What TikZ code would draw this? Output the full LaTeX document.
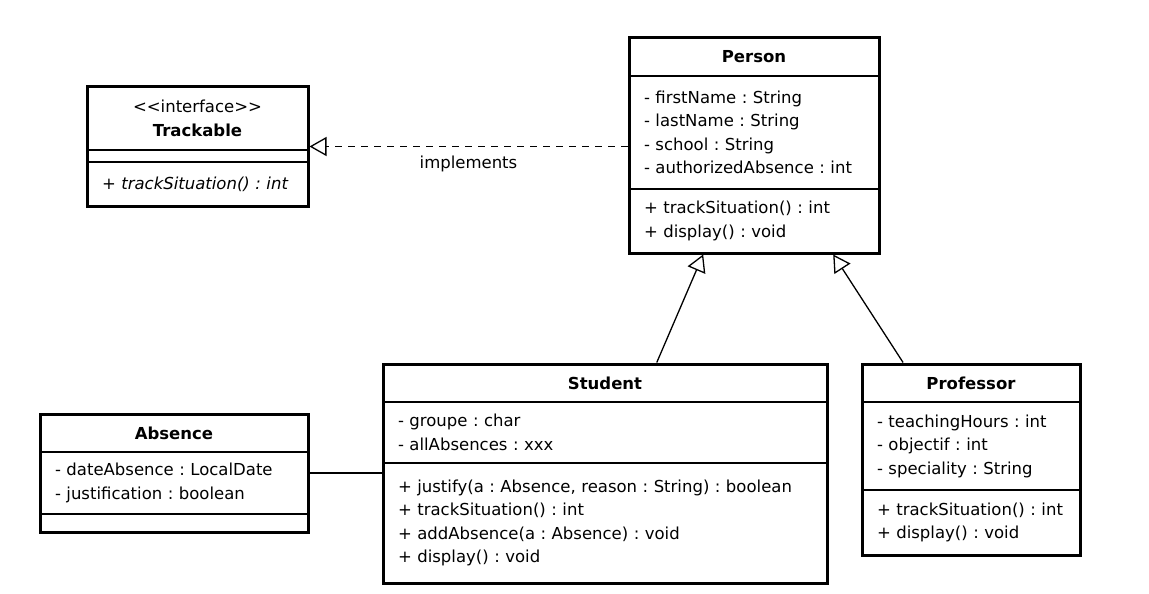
\documentclass[tikz,border=0pt]{standalone}
\usepackage{fontspec}
\setmainfont{DejaVu Sans}
\usetikzlibrary{arrows.meta, positioning, fit}
\frenchspacing

\begin{document}
\begin{tikzpicture}[x=1pt, y=-1pt, font=\fontsize{16.5}{23.5}\selectfont, node distance=0pt,
    classname/.style={draw, line width=1.2pt, outer sep=0pt, inner xsep=15pt, inner ysep=0pt, align=center, anchor=north west},
    classpart/.style={draw, line width=1.2pt, outer sep=0pt, inner xsep=15pt, inner ysep=0pt, align=left},
    classframe/.style={draw, line width=3pt, inner sep=0pt},
    inherit/.style={-{Triangle[open, length=17pt, width=19pt]}, line width=1.3pt},
    realize/.style={inherit, dash pattern=on 7pt off 6pt}]
    \useasboundingbox (0,0) rectangle (1149,594);

    % interface
    \node[classname, text width=191pt, minimum height=63pt] (track) at (87,87) {<{}<interface>{}>\\\textbf{Trackable}};
    \node[classpart, text width=191pt, minimum height=12pt, below=of track] (trackattr) {};
    \node[classpart, text width=191pt, minimum height=44pt, below=of trackattr] (trackops) {\itshape + trackSituation() : int};
    \node[classframe, fit=(track)(trackops)] (trackbox) {};

    % Person
    \node[classname, text width=220pt, minimum height=38pt] (person) at (629,38) {\textbf{Person}};
    \node[classpart, text width=220pt, minimum height=113pt, below=of person] (personattr) {- firstName : String\\- lastName : String\\- school : String\\- authorizedAbsence : int};
    \node[classpart, text width=220pt, minimum height=64pt, below=of personattr] (personops) {+ trackSituation() : int\\+ display() : void};
    \node[classframe, fit=(person)(personops)] (personbox) {};

    % Student
    \node[classname, text width=414pt, minimum height=38pt] (student) at (383,364) {\textbf{Student}};
    \node[classpart, text width=414pt, minimum height=61pt, below=of student] (studentattr) {- groupe : char\\- allAbsences : xxx};
    \node[classpart, text width=414pt, minimum height=120pt, below=of studentattr] (studentops) {+ justify(a : Absence, reason : String) : boolean\\+ trackSituation() : int\\+ addAbsence(a : Absence) : void\\+ display() : void};
    \node[classframe, fit=(student)(studentops)] (studentbox) {};

    % Professor
    \node[classname, text width=188pt, minimum height=38pt] (prof) at (862,364) {\textbf{Professor}};
    \node[classpart, text width=188pt, minimum height=88pt, below=of prof] (profattr) {- teachingHours : int\\- objectif : int\\- speciality : String};
    \node[classpart, text width=188pt, minimum height=65pt, below=of profattr] (profops) {+ trackSituation() : int\\+ display() : void};
    \node[classframe, fit=(prof)(profops)] (profbox) {};

    % Absence
    \node[classname, text width=238pt, minimum height=38pt] (absence) at (40,414) {\textbf{Absence}};
    \node[classpart, text width=238pt, minimum height=62pt, below=of absence] (absenceattr) {- dateAbsence : LocalDate\\- justification : boolean};
    \node[classpart, text width=238pt, minimum height=18pt, below=of absenceattr] (absenceops) {};
    \node[classframe, fit=(absence)(absenceops)] (absencebox) {};

    \draw[realize] (personbox.west |- trackbox.east) -- node[below=5pt] (impl) {implements} (trackbox.east);
    \draw[inherit] (studentbox.65) -- (personbox.245);
    \draw[inherit] (profbox.125) -- (personbox.306);
    \draw[line width=1.3pt] (absencebox.east) -- (absencebox.east -| studentbox.west);
\end{tikzpicture}
\end{document}
